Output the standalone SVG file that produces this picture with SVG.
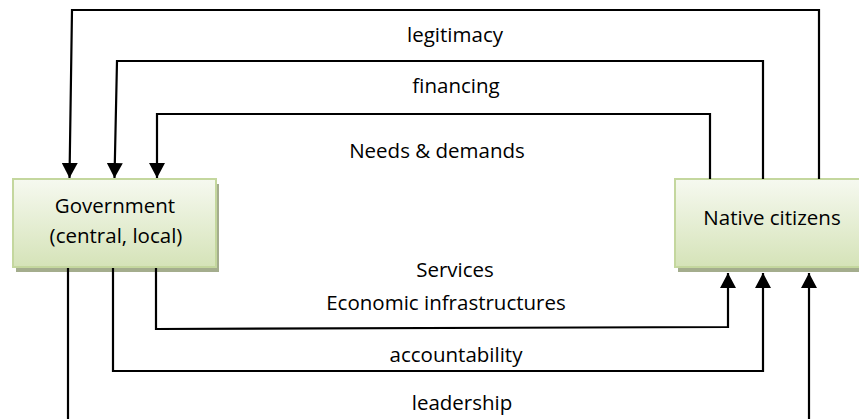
<svg xmlns="http://www.w3.org/2000/svg" width="859" height="419" viewBox="0 0 859 419">
<defs>
<linearGradient id="g" x1="0" y1="0" x2="0" y2="1">
<stop offset="0" stop-color="#f6f9f0"/>
<stop offset="1" stop-color="#d5e3b8"/>
</linearGradient>
<marker id="ah" viewBox="0 0 15 16" refX="15" refY="8" markerWidth="15" markerHeight="16" markerUnits="userSpaceOnUse" orient="auto">
<path d="M0,0 L15,8 L0,16 Z" fill="#000"/>
</marker>
</defs>
<style>
.box{fill:url(#g);stroke:#c4d79e;stroke-width:2}
.sh{fill:#a4ad8d}
.ln{fill:none;stroke:#000;stroke-width:2.2}
text{font-family:"Open Sans","Liberation Sans",sans-serif;font-size:20.5px;fill:#000;text-anchor:middle}
</style>
<rect width="859" height="419" fill="#fff"/>
<g id="n-gov">
<rect class="sh" x="16" y="184" width="203" height="88"/>
<rect class="box" x="13" y="179" width="203" height="88"/>
<text x="115" y="213">Government</text>
<text x="116" y="243">(central, local)</text>
</g>
<g id="n-native">
<rect class="sh" x="678" y="184" width="190" height="88"/>
<rect class="box" x="675" y="179" width="190" height="88"/>
<text x="772" y="225">Native citizens</text>
</g>
<g id="connectors">
<polyline class="ln" points="819,179 819,10 72,10 69.5,178" marker-end="url(#ah)"/>
<polyline class="ln" points="763,179 763,61 117,61 114.5,178" marker-end="url(#ah)"/>
<polyline class="ln" points="710,179 710,114 157,114 157,178" marker-end="url(#ah)"/>
<polyline class="ln" points="156,268 156,329 728,327 728,273" marker-end="url(#ah)"/>
<polyline class="ln" points="113,268 113,371 763,371 763,273" marker-end="url(#ah)"/>
<polyline class="ln" points="68,268 68,419"/>
<polyline class="ln" points="809,419 809,273" marker-end="url(#ah)"/>
</g>
<g id="labels">
<text x="455" y="42">legitimacy</text>
<text x="456" y="93">financing</text>
<text x="437" y="158">Needs &amp; demands</text>
<text x="455" y="277">Services</text>
<text x="446" y="310">Economic infrastructures</text>
<text x="456" y="362">accountability</text>
<text x="462" y="410">leadership</text>
</g>
</svg>
